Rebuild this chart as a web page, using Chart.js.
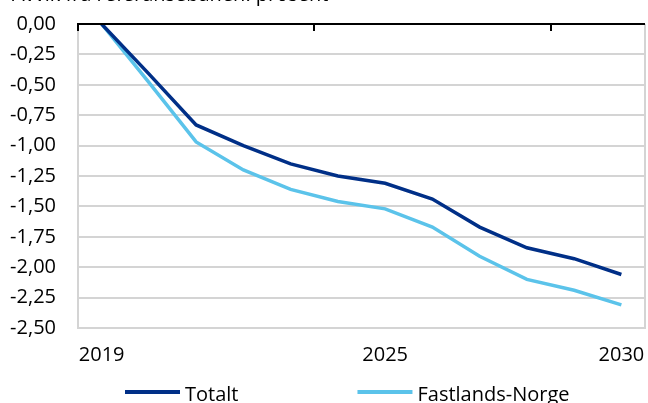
<!DOCTYPE html>
<html>
<head>
<meta charset="utf-8">
<script src="https://cdn.jsdelivr.net/npm/chart.js@4"></script>
<style>
  html, body { margin: 0; padding: 0; background: #fff; overflow: hidden; }
  #wrap { position: relative; width: 648px; height: 403px; }
  #unit { position: absolute; left: 12px; top: -20px; font: 20px/27px "Open Sans", sans-serif; color: #000; white-space: nowrap; }
</style>
</head>
<body>
<div id="wrap">
  <div id="unit">Avvik fra referansebanen. prosent</div>
  <canvas id="chart" width="648" height="403"></canvas>
</div>
<script>
const years = ['2019', '2020', '2021', '2022', '2023', '2024', '2025', '2026', '2027', '2028', '2029', '2030']
const shownYears = ['2019', '2025', '2030']
const totalt = [0, -0.41, -0.83, -1.0, -1.15, -1.25, -1.31, -1.44, -1.67, -1.84, -1.93, -2.06]
const fastland = [0, -0.48, -0.97, -1.2, -1.36, -1.46, -1.52, -1.67, -1.91, -2.1, -2.19, -2.31]
const yTicks = [0, -0.25, -0.5, -0.75, -1, -1.25, -1.5, -1.75, -2, -2.25, -2.5]

const FONT = '"Open Sans", sans-serif'
const GRID = '#d4d4d4'

// frame: gray right edge, black zero line with short ticks every fifth category
const frame = {
  id: 'frame',
  beforeDatasetsDraw(chart) {
    const { ctx, chartArea } = chart
    ctx.save()
    ctx.strokeStyle = GRID
    ctx.lineWidth = 2
    ctx.beginPath()
    ctx.moveTo(chartArea.right, chartArea.top)
    ctx.lineTo(chartArea.right, chartArea.bottom + 1)
    ctx.stroke()
    ctx.restore()
  },
  afterDatasetsDraw(chart) {
    const { ctx, scales: { x, y } } = chart
    const y0 = y.getPixelForValue(0)
    ctx.save()
    ctx.strokeStyle = '#000'
    ctx.lineWidth = 2
    ctx.beginPath()
    ctx.moveTo(x.left - 1, y0)
    ctx.lineTo(x.right, y0)
    for (const i of [0, 5, 10]) {
      const px = Math.round(x.getPixelForValue(i - 0.5))
      ctx.moveTo(px, y0)
      ctx.lineTo(px, y0 + 7)
    }
    ctx.stroke()
    ctx.restore()
  },
}

// legend drawn like the Excel original: long line sample, small gap, wide spacing
const lineLegend = {
  id: 'lineLegend',
  afterDraw(chart, args, opts) {
    const { ctx } = chart
    ctx.save()
    ctx.font = `20px ${FONT}`
    ctx.textBaseline = 'middle'
    ctx.fillStyle = '#000'
    let x = opts.left
    chart.data.datasets.forEach((ds) => {
      ctx.strokeStyle = ds.borderColor
      ctx.lineWidth = 4
      ctx.beginPath()
      ctx.moveTo(x, opts.y)
      ctx.lineTo(x + opts.sample, opts.y)
      ctx.stroke()
      ctx.fillText(ds.label, x + opts.sample + opts.gap, opts.y + 3)
      x += opts.sample + opts.gap + ctx.measureText(ds.label).width + opts.spacing
    })
    ctx.restore()
  },
}

new Chart(document.getElementById('chart'), {
  type: 'line',
  data: {
    labels: years,
    datasets: [
      { label: 'Totalt', data: totalt, borderColor: '#002f87', backgroundColor: '#002f87', borderWidth: 3.5, pointRadius: 0, tension: 0 },
      { label: 'Fastlands-Norge', data: fastland, borderColor: '#5bc3ea', backgroundColor: '#5bc3ea', borderWidth: 3.5, pointRadius: 0, tension: 0 },
    ],
  },
  options: {
    responsive: false,
    animation: false,
    layout: { padding: { top: 24, right: 3, bottom: 33, left: 0 } },
    plugins: {
      tooltip: { enabled: false },
      legend: { display: false },
      lineLegend: { left: 125, y: 392, sample: 55, gap: 5, spacing: 119 },
    },
    scales: {
      x: {
        offset: true,
        grid: { display: false },
        border: { display: false },
        ticks: {
          color: '#000',
          font: { family: FONT, size: 20 },
          padding: 7,
          maxRotation: 0,
          autoSkip: false,
          callback(value) {
            const label = years[value]
            return shownYears.includes(label) ? label : ''
          },
        },
        afterFit(scale) {
          scale.height = 42
          scale.paddingLeft = 0
          scale.paddingRight = 0
        },
      },
      y: {
        min: -2.5,
        max: 0,
        afterBuildTicks(scale) { scale.ticks = yTicks.map((v) => ({ value: v })) },
        grid: { color: GRID, lineWidth: 2, drawTicks: false },
        border: { color: GRID, width: 2 },
        ticks: {
          color: '#000',
          font: { family: FONT, size: 20 },
          padding: 22,
          callback(value) { return value.toFixed(2).replace('.', ',') },
        },
        afterFit(scale) {
          scale.width = 78
          scale.paddingTop = 0
          scale.paddingBottom = 0
        },
      },
    },
  },
  plugins: [frame, lineLegend],
})
</script>
</body>
</html>
